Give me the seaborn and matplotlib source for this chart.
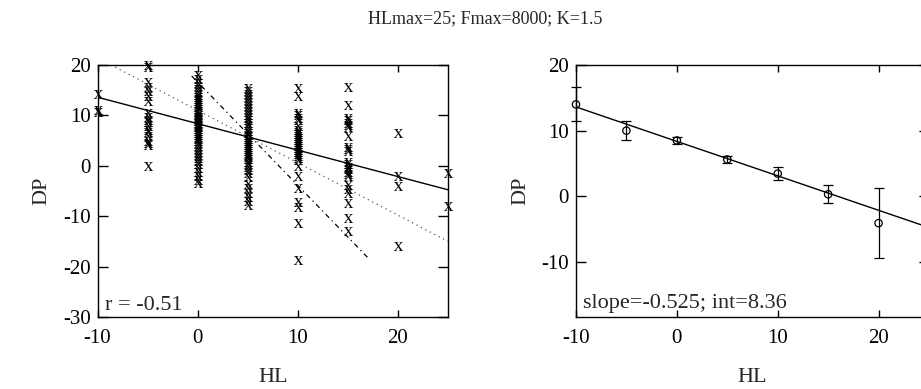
import matplotlib
matplotlib.use("Agg")
import matplotlib.pyplot as plt
import numpy as np
import pandas as pd
import seaborn as sns

# left panel: raw DP values per HL column
hl_m10 = [14.2, 11.0, 10.6]
hl_m5 = [20.0, 19.6, 16.6, 15.7, 14.8, 13.8, 12.8, 10.4, 9.6, 9.0, 8.6, 7.8,
         7.2, 6.8, 5.9, 5.0, 4.6, 4.2, 0.0]
hl_0 = [18.0, 17.2, 16.5, 15.8, 15.2, 14.6, 14.0, 13.6, 13.2, 12.8, 12.4, 12.0,
        11.6, 11.2, 10.9, 10.6, 10.3, 10.0, 9.7, 9.4, 9.1, 8.8, 8.5, 8.2, 7.9,
        7.6, 7.3, 7.0, 6.6, 6.2, 5.8, 5.4, 5.0, 4.5, 4.0, 3.4, 2.8, 2.2, 1.6,
        1.0, 0.3, -0.4, -1.2, -2.0, -2.8, -3.4]
hl_5 = [15.5, 14.8, 14.2, 13.6, 13.0, 12.4, 11.8, 11.2, 10.6, 10.0, 9.5, 9.0,
        8.5, 8.0, 7.5, 7.0, 6.6, 6.2, 5.8, 5.4, 5.0, 4.6, 4.2, 3.8, 3.4, 3.0,
        2.6, 2.2, 1.8, 1.3, 0.8, 0.3, -0.3, -0.9, -1.5, -2.2, -3.6, -4.5, -5.3,
        -6.2, -7.0, -7.8]
hl_10 = [15.4, 13.8, 10.5, 10.0, 9.5, 9.1, 7.8, 7.2, 6.8, 6.4, 6.0, 5.6, 5.2,
         4.8, 4.4, 4.0, 3.6, 3.2, 2.8, 2.4, 2.0, 1.6, 1.2, -0.1, -2.1, -4.4,
         -7.1, -8.1, -11.4, -18.6]
hl_15 = [15.6, 12.1, 9.5, 9.0, 8.5, 8.0, 7.6, 6.0, 3.8, 3.4, 3.0, 0.8, 0.3,
         -0.2, -0.7, -1.2, -1.7, -2.1, -3.8, -4.6, -5.4, -7.4, -10.4, -13.0]
hl_20 = [6.6, -2.1, -4.1, -16.0]
hl_25 = [-1.5, -8.0]

columns = {-10: hl_m10, -5: hl_m5, 0: hl_0, 5: hl_5, 10: hl_10, 15: hl_15,
           20: hl_20, 25: hl_25}

# fitted lines on the left panel (slope, intercept)
fit_solid = (-0.525, 8.36)
fit_dotted = (-1.04, 11.0)
fit_dashdot = (-2.05, 16.6)
dashdot_x = [-0.6, 17.2]
r_value = -0.51

# right panel: column means and errors
bin_hl = [-10, -5, 0, 5, 10, 15, 20]
bin_mean = [14.0, 10.0, 8.5, 5.6, 3.45, 0.3, -4.1]
bin_err = [2.6, 1.4, 0.55, 0.5, 1.05, 1.35, 5.3]
slope, intercept = -0.525, 8.36

df = pd.DataFrame([(k, v) for k, vals in columns.items() for v in vals],
                  columns=["HL", "DP"])
means = pd.DataFrame({"HL": bin_hl, "DP": bin_mean, "err": bin_err})

sns.set_theme(style="ticks")
plt.rcParams["font.family"] = ["Liberation Serif", "DejaVu Serif"]
plt.rcParams["mathtext.fontset"] = "custom"
plt.rcParams["mathtext.rm"] = "Liberation Serif"
plt.rcParams["axes.linewidth"] = 1.0
plt.rcParams["axes.unicode_minus"] = False

fig = plt.figure(figsize=(9.21, 3.89), dpi=100)
ax1 = fig.add_axes([0.1059, 0.1851, 0.3806, 0.6478])
ax2 = fig.add_axes([0.6254, 0.1851, 0.3833, 0.6478])

# left panel
sns.scatterplot(data=df, x="HL", y="DP", ax=ax1, marker="$\\mathrm{x}$",
                color="black", s=45, linewidth=0, clip_on=False)
xs = np.array([-10, 25])
ax1.plot(xs, fit_solid[0] * xs + fit_solid[1], color="black", lw=1.0)
ax1.plot(xs, fit_dotted[0] * xs + fit_dotted[1], color="#555555", lw=0.9,
         linestyle=(0, (1, 3)))
xd = np.array(dashdot_x)
ax1.plot(xd, fit_dashdot[0] * xd + fit_dashdot[1], color="black", lw=0.9,
         linestyle=(0, (4, 3, 1, 3)))
ax1.set_xlim(-10, 25)
ax1.set_ylim(-30, 20)
ax1.set_xticks([-10, 0, 10, 20])
ax1.set_yticks([-30, -20, -10, 0, 10, 20])
ax1.text(-9.3, -28.6, "r = %.2f" % r_value, fontsize=16)

# right panel
ax2.errorbar(means["HL"], means["DP"], yerr=means["err"], fmt="none",
             ecolor="black", elinewidth=0.9, capsize=3.5, capthick=0.9,
             clip_on=False)
sns.scatterplot(data=means, x="HL", y="DP", ax=ax2, marker="o", s=28,
                facecolor="none", edgecolor="black", linewidth=0.9,
                clip_on=False, zorder=3)
ax2.plot(xs, slope * xs + intercept, color="black", lw=1.0)
ax2.set_xlim(-10, 25)
ax2.set_ylim(-18.4, 20)
ax2.set_xticks([-10, 0, 10, 20])
ax2.set_yticks([-10, 0, 10, 20])
ax2.text(-9.3, -17.0, "slope=%.3f; int=%.2f" % (slope, intercept), fontsize=16)

for ax in (ax1, ax2):
    for s in ax.spines.values():
        s.set_visible(True)
        s.set_color("black")
    ax.tick_params(axis="both", direction="in", top=True, right=True,
                   labelsize=15, colors="black", width=1.0)
    ax.tick_params(axis="y", length=7, pad=5)
    ax.tick_params(axis="x", length=5, pad=9)
    ax.set_xlabel("HL", fontsize=16, labelpad=14)
    ax.set_ylabel("DP", fontsize=16, labelpad=8)

fig.text(0.527, 0.952, "HLmax=25; Fmax=8000; K=1.5", ha="center",
         va="center", fontsize=13)

fig.savefig("out.png", dpi=100)
